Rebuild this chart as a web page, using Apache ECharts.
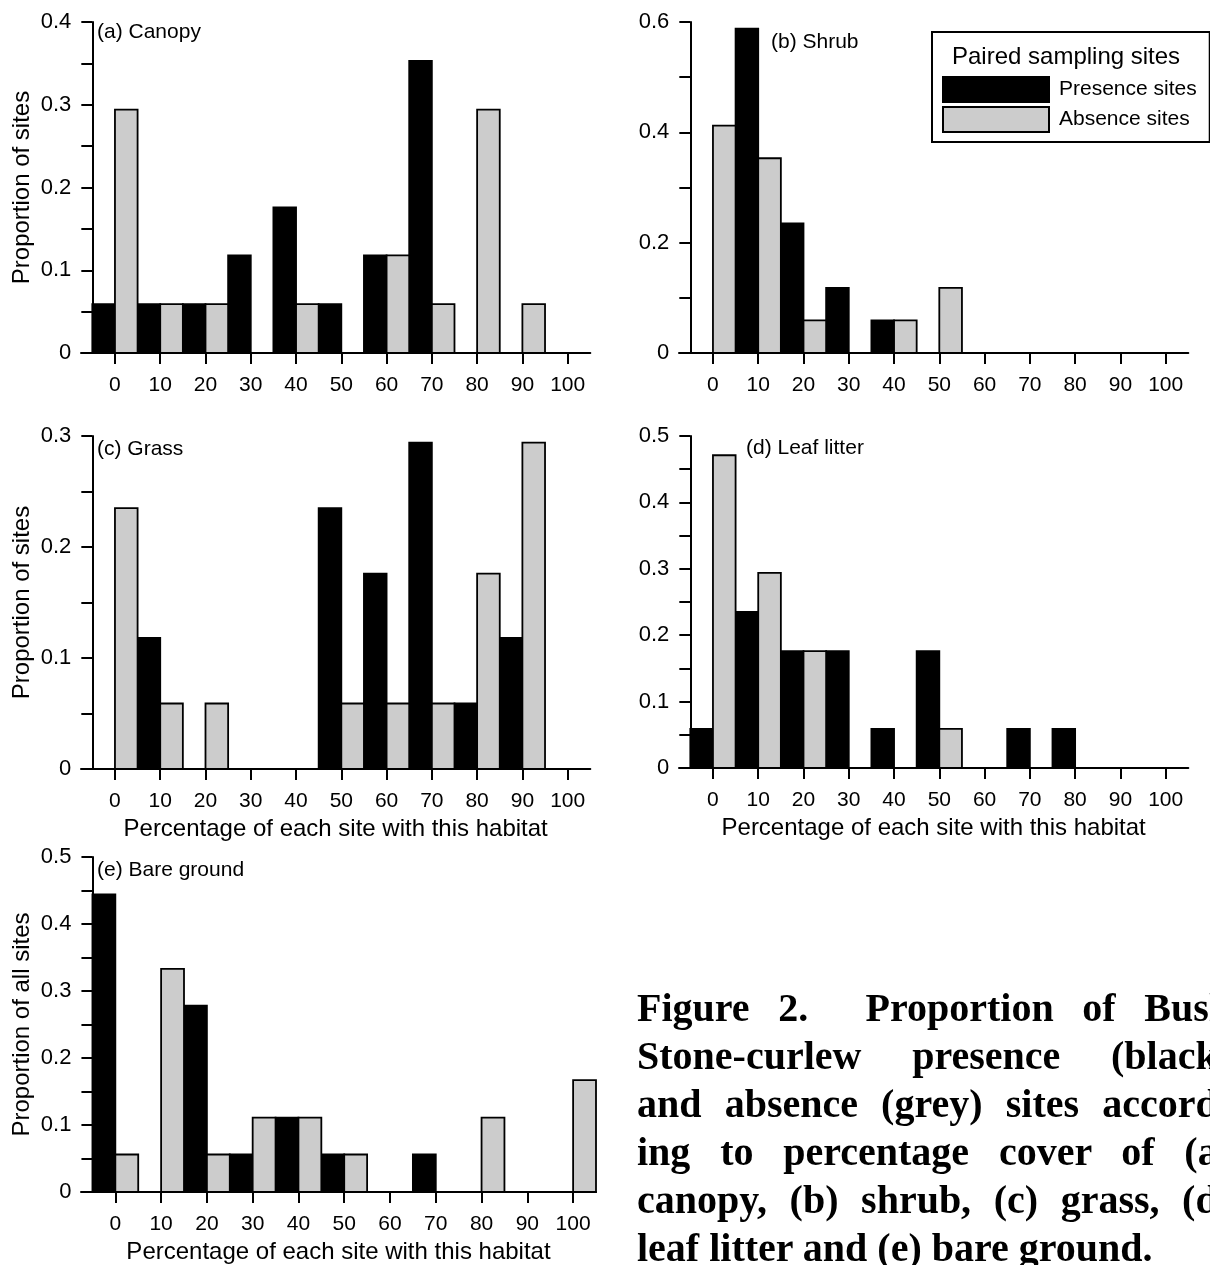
<!DOCTYPE html>
<html>
<head>
<meta charset="utf-8">
<script src="https://cdn.jsdelivr.net/npm/echarts@6/dist/echarts.min.js"></script>
<style>
html,body{margin:0;padding:0;width:1210px;height:1265px;overflow:hidden;background:#fff;}
#chart{position:absolute;left:0;top:0;width:1210px;height:1265px;}
#caption{position:absolute;left:637px;top:984px;width:594px;font-family:'Liberation Serif','Times New Roman',serif;font-weight:bold;font-size:40px;line-height:48px;color:#000;}
#caption div{text-align:justify;text-align-last:justify;}
#caption div.last{text-align:left;text-align-last:left;}
</style>
</head>
<body>
<div id="chart"></div>
<div id="caption">
<div>Figure 2.&nbsp; Proportion of Bush</div>
<div>Stone-curlew presence (black)</div>
<div>and absence (grey) sites accord-</div>
<div>ing to percentage cover of (a)</div>
<div>canopy, (b) shrub, (c) grass, (d)</div>
<div class="last">leaf litter and (e) bare ground.</div>
</div>
<script>
// ---- data ----
const ticksX = [0, 10, 20, 30, 40, 50, 60, 70, 80, 90, 100];
const canopyPresence = [0.059, 0.059, 0.059, 0.118, 0.176, 0.059, 0.118, 0.353, 0, 0, 0];
const canopyAbsence  = [0.294, 0.059, 0.059, 0, 0.059, 0, 0.118, 0.059, 0.294, 0.059, 0];
const shrubPresence  = [0, 0.588, 0.235, 0.118, 0.059, 0, 0, 0, 0, 0, 0];
const shrubAbsence   = [0.412, 0.353, 0.059, 0, 0.059, 0.118, 0, 0, 0, 0, 0];
const grassPresence  = [0, 0.118, 0, 0, 0, 0.235, 0.176, 0.294, 0.059, 0.118, 0];
const grassAbsence   = [0.235, 0.059, 0.059, 0, 0, 0.059, 0.059, 0.059, 0.176, 0.294, 0];
const litterPresence = [0.059, 0.235, 0.176, 0.176, 0.059, 0.176, 0, 0.059, 0.059, 0, 0];
const litterAbsence  = [0.471, 0.294, 0.176, 0, 0, 0.059, 0, 0, 0, 0, 0];
const barePresence   = [0.444, 0, 0.278, 0.056, 0.111, 0.056, 0, 0.056, 0, 0, 0];
const bareAbsence    = [0.056, 0.333, 0.056, 0.111, 0.111, 0.056, 0, 0, 0.111, 0, 0.167];
const panelLabels = ['(a) Canopy', '(b) Shrub', '(c) Grass', '(d) Leaf litter', '(e) Bare ground'];
const seriesNames = ['Presence sites', 'Absence sites'];
const legendTitle = 'Paired sampling sites';
const yTitles = ['Proportion of sites', '', 'Proportion of sites', '', 'Proportion of all sites'];
const xTitle = 'Percentage of each site with this habitat';

// ---- layout / style ----
const FONT = "'Liberation Sans', Arial, sans-serif";
const BIN = 5;
const XMIN = -7.5, XMAX = 105;
const panels = [
  {left: 81,  top: 22,  width: 509.3, height: 331, ymax: 0.4, tick: 0.05, lab: 0.1, p: canopyPresence, a: canopyAbsence, xname: ''},
  {left: 679, top: 22,  width: 509.3, height: 331, ymax: 0.6, tick: 0.1,  lab: 0.2, p: shrubPresence,  a: shrubAbsence,  xname: ''},
  {left: 81,  top: 436, width: 509.3, height: 333, ymax: 0.3, tick: 0.05, lab: 0.1, p: grassPresence,  a: grassAbsence,  xname: xTitle},
  {left: 679, top: 436, width: 509.3, height: 332, ymax: 0.5, tick: 0.05, lab: 0.1, p: litterPresence, a: litterAbsence, xname: xTitle},
  {left: 81,  top: 857, width: 515,   height: 335, ymax: 0.5, tick: 0.05, lab: 0.1, p: barePresence,   a: bareAbsence,   xname: xTitle}
];
const labelPos = [[97, 33], [771, 43], [97, 450], [746, 449], [97, 871]];

const grid = [], xAxis = [], yAxis = [], series = [];
const axisLineStyle = {color: '#000', width: 2};

panels.forEach((pn, i) => {
  const pxPerUnit = pn.width / (XMAX - XMIN);
  grid.push({left: pn.left, top: pn.top, width: pn.width, height: pn.height, containLabel: false});
  xAxis.push({
    gridIndex: i, type: 'value', min: XMIN, max: XMAX,
    axisLine: {show: true, onZero: false, lineStyle: axisLineStyle},
    axisTick: {show: true, customValues: ticksX, length: 11, lineStyle: axisLineStyle},
    axisLabel: {show: true, customValues: ticksX, margin: 22, fontSize: 21, color: '#000', fontFamily: FONT},
    splitLine: {show: false},
    name: pn.xname, nameLocation: 'middle', nameGap: 48,
    nameTextStyle: {fontSize: 24, color: '#000', fontFamily: FONT}
  });
  const lab = pn.lab;
  yAxis.push({
    gridIndex: i, type: 'value', min: 0, max: pn.ymax, interval: pn.tick,
    offset: -(0 - BIN - XMIN) * pxPerUnit,
    axisLine: {show: true, onZero: false, lineStyle: axisLineStyle},
    axisTick: {show: true, length: 11, lineStyle: axisLineStyle},
    axisLabel: {
      show: true, margin: 21, fontSize: 22, color: '#000', fontFamily: FONT,
      formatter: v => {
        const r = v / lab;
        if (Math.abs(r - Math.round(r)) > 1e-6) return '';
        return v === 0 ? '0' : String(+v.toFixed(1));
      }
    },
    splitLine: {show: false},
    name: yTitles[i], nameLocation: 'middle', nameGap: 58,
    nameTextStyle: {fontSize: 24, color: '#000', fontFamily: FONT}
  });
  [[pn.p, '#000000', -1, seriesNames[0]], [pn.a, '#cccccc', 1, seriesNames[1]]].forEach(([vals, color, side, name]) => {
    series.push({
      type: 'custom', name: name, coordinateSystem: 'cartesian2d',
      xAxisIndex: i, yAxisIndex: i,
      itemStyle: {color: color},
      encode: {x: 0, y: 1},
      data: ticksX.map((x, k) => [x, vals[k]]).filter(d => d[1] > 0),
      renderItem: (params, api) => {
        const x = api.value(0), y = api.value(1);
        const a = api.coord([side < 0 ? x - BIN : x, y]);
        const b = api.coord([side < 0 ? x : x + BIN, 0]);
        return {type: 'rect', shape: {x: a[0], y: a[1], width: b[0] - a[0], height: b[1] - a[1]},
                style: {fill: color, stroke: '#000', lineWidth: 1.8}};
      },
      silent: true
    });
  });
});

const graphic = panelLabels.map((t, i) => ({
  type: 'text', left: labelPos[i][0], top: labelPos[i][1] - 11, z: 100,
  style: {text: t, fontSize: 21, fill: '#000', fontFamily: FONT}
}));
graphic.push({
  type: 'text', left: 952, top: 45, z: 100, zlevel: 1,
  style: {text: legendTitle, fontSize: 24, fill: '#000', fontFamily: FONT}
});

const chart = echarts.init(document.getElementById('chart'), null, {renderer: 'canvas'});
chart.setOption({
  animation: false,
  backgroundColor: '#fff',
  grid, xAxis, yAxis, series, graphic,
  legend: {
    show: true, left: 932, top: 32, orient: 'vertical',
    data: seriesNames, selectedMode: false,
    padding: [44, 13, 9, 10], itemGap: 3, itemWidth: 106, itemHeight: 25,
    borderColor: '#000', borderWidth: 2, backgroundColor: '#fff',
    icon: 'rect', itemStyle: {borderColor: '#000', borderWidth: 2},
    textStyle: {fontSize: 21, color: '#000', fontFamily: FONT, padding: [0, 0, 0, 5]}
  }
});
</script>
</body>
</html>
